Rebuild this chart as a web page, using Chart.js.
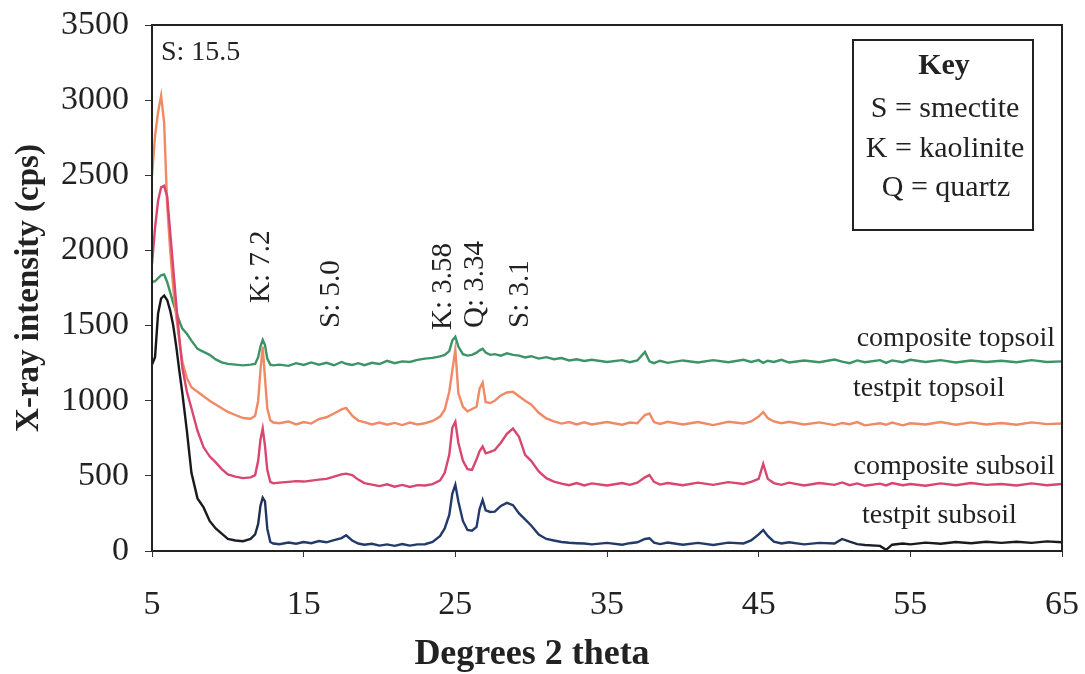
<!DOCTYPE html>
<html>
<head>
<meta charset="utf-8">
<script src="https://cdn.jsdelivr.net/npm/chart.js@4.4.1/dist/chart.umd.min.js"></script>
<style>
  html, body { margin: 0; padding: 0; background: #fff; }
  #xrd { display: block; }
</style>
</head>
<body>
<canvas id="xrd" width="1085" height="674"></canvas>
<script>
// diffractogram values (degrees 2 theta / cps)
const angles = [
  5.0, 5.2, 5.4, 5.6, 5.8, 6.0, 6.2, 6.4, 6.6, 6.8,
  7.0, 7.3, 7.6, 8.0, 8.4, 8.8, 9.2, 9.6, 10.0, 10.5,
  11.0, 11.5, 11.8, 12.0, 12.15, 12.3, 12.45, 12.6, 12.8, 13.0,
  13.4, 14.0, 14.5, 15.0, 15.5, 16.0, 16.5, 17.0, 17.5, 17.8,
  18.2, 18.6, 19.0, 19.5, 20.0, 20.5, 21.0, 21.5, 22.0, 22.5,
  23.0, 23.5, 24.0, 24.3, 24.6, 24.8, 25.0, 25.2, 25.5, 25.8,
  26.1, 26.4, 26.6, 26.8, 27.0, 27.3, 27.6, 28.0, 28.4, 28.8,
  29.2, 29.6, 30.0, 30.5, 31.0, 31.5, 32.0, 32.5, 33.0, 33.5,
  34.0, 35.0, 36.0, 36.5, 37.0, 37.5, 37.8, 38.1, 38.5, 39.0,
  40.0, 41.0, 42.0, 43.0, 44.0, 44.5, 45.0, 45.3, 45.6, 46.0,
  46.5, 47.0, 48.0, 49.0, 50.0, 50.5, 51.0, 51.5, 52.0, 53.0,
  53.4, 53.8, 54.5, 55.0, 56.0, 57.0, 58.0, 59.0, 60.0, 61.0,
  62.0, 63.0, 64.0, 65.0
];

const compositeTopsoil = [
  1790, 1795, 1815, 1835, 1840, 1790, 1720, 1650, 1590, 1530,
  1480, 1445, 1400, 1345, 1325, 1305, 1275, 1255, 1245, 1240,
  1235, 1240, 1245, 1290, 1360, 1405, 1370, 1280, 1240, 1235,
  1240, 1232, 1250, 1238, 1255, 1240, 1252, 1236, 1258, 1246,
  1238, 1250, 1236, 1252, 1244, 1265, 1250, 1262, 1258, 1272,
  1280, 1285, 1295, 1305, 1330, 1400, 1425, 1360, 1310, 1300,
  1305, 1320, 1335, 1345, 1320, 1305, 1310, 1300, 1315, 1305,
  1300, 1288, 1296, 1280, 1290, 1276, 1284, 1268, 1276, 1264,
  1272, 1258, 1270, 1256, 1268, 1325, 1262, 1250, 1266, 1252,
  1268, 1254, 1270, 1256, 1272, 1258, 1270, 1252, 1266, 1258,
  1272, 1254, 1268, 1256, 1274, 1260, 1250, 1268, 1256, 1270,
  1252, 1268, 1256, 1272, 1258, 1270, 1254, 1268, 1258, 1266,
  1256, 1270, 1258, 1262
];

const testpitTopsoil = [
  2500, 2760, 2920, 3030, 2850, 2300, 2000, 1750, 1560, 1400,
  1260, 1150, 1090, 1060, 1030, 1000, 975, 950, 925, 905,
  885, 880, 900, 1000, 1200, 1360, 1150, 950, 870, 855,
  850, 862, 842, 858, 848, 878, 890, 915, 942, 952,
  900, 868, 858, 842, 855, 840, 852, 838, 855, 842,
  850, 865, 895, 940, 1060, 1200, 1340, 1050, 960, 930,
  945, 960, 1080, 1120, 990, 985, 1000, 1035, 1055, 1060,
  1030, 1000, 975, 920, 882, 862, 848, 858, 842, 856,
  842, 858, 840, 855, 850, 905, 915, 858, 845, 860,
  842, 858, 838, 860, 848, 862, 895, 925, 885, 862,
  850, 860, 842, 856, 838, 852, 844, 858, 836, 850,
  840, 855, 836, 850, 842, 858, 840, 856, 842, 852,
  840, 856, 844, 848
];

const compositeSubsoil = [
  1910, 2150, 2330, 2420, 2430, 2360, 2120, 1880, 1640, 1420,
  1220, 1060, 950, 800, 690, 630, 590, 545, 510, 495,
  485, 490, 505, 600, 740, 815, 700, 540, 460, 450,
  455, 460, 465, 462, 468, 475, 480, 495, 510, 515,
  505, 475, 452, 442, 432, 444, 428, 440, 426, 438,
  436, 445, 470, 520, 640, 820, 860, 720, 600, 545,
  540, 610, 665, 695, 650, 660, 672, 720, 780, 815,
  760, 640, 600, 530, 485, 462, 448, 438, 452, 436,
  450, 436, 452, 440, 455, 490, 505, 460, 442, 452,
  438, 455, 440, 458, 446, 460, 480, 580, 480, 452,
  440, 455, 436, 452, 440, 456, 438, 450, 434, 448,
  436, 452, 438, 446, 434, 450, 438, 452, 440, 446,
  436, 450, 438, 446
];

const testpitSubsoil = [
  1240, 1290, 1580, 1680, 1700, 1670, 1600, 1500, 1360, 1200,
  1050, 800, 520, 350, 290, 200, 150, 115, 80, 70,
  65, 80, 110, 180, 300, 355, 330, 150, 60, 50,
  45, 56, 48, 60, 52, 66, 58, 72, 86, 105,
  70, 50, 42, 48, 36, 44, 34, 46, 36, 44,
  45, 60, 100, 150, 240, 380, 440, 330, 200, 140,
  135, 160, 280, 340, 270, 260, 262, 300, 320, 305,
  250, 210, 170, 110, 80, 70, 60, 55, 52, 50,
  44, 54, 42, 52, 58, 80, 85, 56, 46, 56,
  42, 54, 40, 56, 50, 70, 110, 140, 100, 62,
  50, 58, 44, 54, 50, 80, 62, 46, 40, 34,
  8, 42, 50, 44, 56, 48, 60, 52, 62, 54,
  62, 54, 64, 58
];

const seriesNames = ['composite topsoil', 'testpit topsoil', 'composite subsoil', 'testpit subsoil'];
const peakLabels = ['K: 7.2', 'S: 5.0', 'K: 3.58', 'Q: 3.34', 'S: 3.1'];
const keyLines = ['S = smectite', 'K = kaolinite', 'Q = quartz'];

const SERIF = '"Liberation Serif", "Times New Roman", serif';

function pts(vals) {
  return angles.map((a, i) => ({ x: a, y: vals[i] }));
}

// black at the ends, navy through the middle, like the scan
function subsoilColor(context) {
  const chart = context.chart;
  const area = chart.chartArea;
  if (!area) return '#1a1a1a';
  const g = chart.ctx.createLinearGradient(area.left, 0, area.right, 0);
  g.addColorStop(0, '#161616');
  g.addColorStop(0.1, '#1b1d26');
  g.addColorStop(0.13, '#223a6a');
  g.addColorStop(0.74, '#223a6a');
  g.addColorStop(0.8, '#1a1a1a');
  g.addColorStop(1, '#1a1a1a');
  return g;
}

const annotations = {
  id: 'annotations',
  afterDraw(chart) {
    const ctx = chart.ctx;
    const area = chart.chartArea;
    ctx.save();

    // frame around the plot
    ctx.strokeStyle = '#222';
    ctx.lineWidth = 2;
    ctx.strokeRect(area.left, area.top, area.right - area.left, area.bottom - area.top);

    ctx.fillStyle = '#222';
    ctx.font = '28px ' + SERIF;
    ctx.textBaseline = 'alphabetic';
    ctx.textAlign = 'left';
    ctx.fillText('S: 15.5', 161, 60);

    // x axis title sits left of centre in the original
    ctx.textAlign = 'center';
    ctx.font = 'bold 36px ' + SERIF;
    ctx.fillText('Degrees 2 theta', 532, 664);
    ctx.textAlign = 'left';

    // rotated peak labels
    ctx.font = '29px ' + SERIF;
    ctx.textBaseline = 'middle';
    const bottoms = [303, 328, 330, 328, 328];
    const cols = [261, 331, 443, 475, 520];
    peakLabels.forEach((t, i) => {
      ctx.save();
      ctx.translate(cols[i], bottoms[i]);
      ctx.rotate(-Math.PI / 2);
      ctx.fillText(t, 0, 0);
      ctx.restore();
    });

    // series names
    ctx.font = '28px ' + SERIF;
    ctx.textAlign = 'right';
    ctx.fillText(seriesNames[0], 1055, 339);
    ctx.fillText(seriesNames[2], 1055, 467);
    ctx.textAlign = 'left';
    ctx.fillText(seriesNames[1], 853, 389);
    ctx.fillText(seriesNames[3], 862, 516);

    // key box
    ctx.fillStyle = '#fff';
    ctx.fillRect(853, 40, 180, 190);
    ctx.strokeStyle = '#222';
    ctx.lineWidth = 2;
    ctx.strokeRect(853, 40, 180, 190);
    ctx.fillStyle = '#222';
    ctx.textAlign = 'center';
    ctx.textBaseline = 'alphabetic';
    ctx.font = 'bold 30px ' + SERIF;
    ctx.fillText('Key', 944, 74);
    ctx.font = '30px ' + SERIF;
    ctx.fillText(keyLines[0], 945, 117);
    ctx.fillText(keyLines[1], 945, 157);
    ctx.fillText(keyLines[2], 946, 196);
    ctx.restore();
  }
};

const chart = new Chart(document.getElementById('xrd'), {
  type: 'line',
  data: {
    datasets: [
      { label: seriesNames[3], data: pts(testpitSubsoil), borderColor: subsoilColor },
      { label: seriesNames[2], data: pts(compositeSubsoil), borderColor: '#d9466f' },
      { label: seriesNames[1], data: pts(testpitTopsoil), borderColor: '#ef8a64' },
      { label: seriesNames[0], data: pts(compositeTopsoil), borderColor: '#3c9466' }
    ]
  },
  options: {
    responsive: false,
    animation: false,
    layout: { padding: { top: 25, right: 23, left: 0, bottom: 0 } },
    elements: {
      line: { borderWidth: 2.4, tension: 0, fill: false },
      point: { radius: 0 }
    },
    plugins: { legend: { display: false }, tooltip: { enabled: false } },
    scales: {
      x: {
        type: 'linear',
        min: 5,
        max: 65,
        afterFit: (s) => { s.height = 123; s.paddingLeft = 0; s.paddingRight = 0; },
        ticks: { stepSize: 10, color: '#222', padding: 28, font: { family: SERIF, size: 34 },
                 callback: (v) => String(v) },
        grid: { drawOnChartArea: false, drawTicks: true, tickLength: 6, color: '#333' },
        border: { display: true, color: '#222', width: 2 },
        title: { display: false }
      },
      y: {
        min: 0,
        max: 3500,
        afterFit: (s) => { s.width = 152; s.paddingTop = 0; s.paddingBottom = 0; },
        ticks: { stepSize: 500, color: '#222', padding: 16, font: { family: SERIF, size: 34 },
                 callback: (v) => String(v) },
        grid: { drawOnChartArea: false, drawTicks: true, tickLength: 7, color: '#333' },
        border: { display: true, color: '#222', width: 2 },
        title: { display: true, text: 'X-ray intensity (cps)', color: '#222', padding: { top: 10, bottom: 0 },
                 font: { family: SERIF, size: 33, weight: 'bold' } }
      }
    }
  },
  plugins: [annotations]
});
</script>
</body>
</html>
